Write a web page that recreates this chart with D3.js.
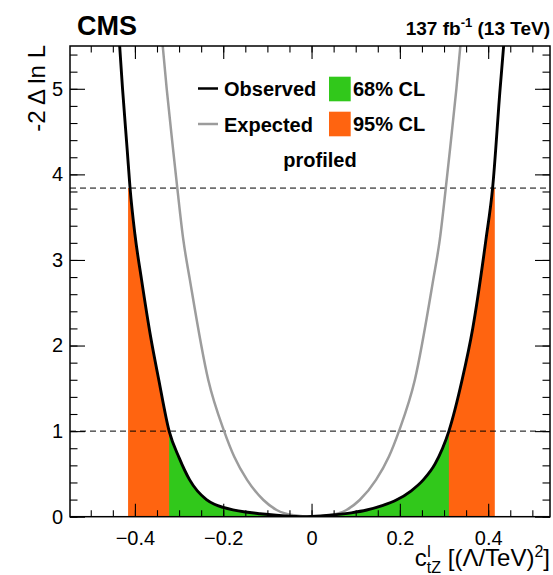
<!DOCTYPE html>
<html lang="en">
<head>
<meta charset="UTF-8">
<title>c_tZ^I likelihood scan</title>
<script src="https://d3js.org/d3.v7.min.js"></script>
<style>
  body { margin: 0; background: #fff; }
  svg { font-family: "Liberation Sans", Arial, Helvetica, sans-serif; }
</style>
</head>
<body>
<script>
// observed scan
const obsX = [-0.439, -0.4345, -0.428, -0.4175, -0.411, -0.400, -0.385, -0.365, -0.346, -0.3225,
              -0.300, -0.276, -0.238, -0.220, -0.200, -0.178, -0.150, -0.117, -0.080, -0.040, -0.020,
              0.000, 0.048, 0.090, 0.125, 0.160, 0.192, 0.225, 0.253, 0.280, 0.311,
              0.341, 0.365, 0.395, 0.410, 0.427, 0.435, 0.440];
const obsY = [5.85, 5.5, 5.0, 4.29, 3.84, 3.30, 2.77, 2.12, 1.60, 1.00,
              0.69, 0.43, 0.20, 0.145, 0.108, 0.08, 0.055, 0.035, 0.017, 0.004, 0.0,
              0.002, 0.02, 0.045, 0.078, 0.13, 0.195, 0.30, 0.43, 0.62, 1.0,
              1.6, 2.2, 3.24, 3.84, 5.0, 5.5, 5.85];

// expected scan
const expX = [-0.342, -0.337, -0.328, -0.3135, -0.304, -0.2905, -0.2756, -0.234, -0.198, -0.175,
              -0.146, -0.109, -0.079, -0.040, 0.000, 0.040, 0.079, 0.109, 0.146, 0.175,
              0.198, 0.234, 0.2756, 0.2905, 0.304, 0.3135, 0.328, 0.337, 0.342];
const expY = [5.8, 5.5, 5.0, 4.29, 3.84, 3.24, 2.77, 1.6, 1.0, 0.7,
              0.43, 0.195, 0.078, 0.016, 0.0, 0.016, 0.078, 0.195, 0.43, 0.7,
              1.0, 1.6, 2.77, 3.24, 3.84, 4.29, 5.0, 5.5, 5.8];

const ci68 = [-0.3225, 0.311];
const ci95 = [-0.4155, 0.415];
const levels = [1, 3.84];

const xTickVals = [-0.4, -0.2, 0, 0.2, 0.4];
const xTickLabels = ["\u22120.4", "\u22120.2", "0", "0.2", "0.4"];
const yTickVals = [0, 1, 2, 3, 4, 5];
const yTickLabels = ["0", "1", "2", "3", "4", "5"];

const lineLabels = ["Observed", "Expected"];
const boxLabels = ["68% CL", "95% CL"];

const green = "#31c81b", orange = "#ff6410", grey = "#9c9c9c";
const font = "'Liberation Sans', Arial, Helvetica, sans-serif";

const width = 553, height = 575;
const pLeft = 70, pRight = 550, pTop = 46, pBottom = 516.7;

const x = d3.scaleLinear().domain([-0.547, 0.540]).range([pLeft, pRight]);
const y = d3.scaleLinear().domain([0, 5.5]).range([pBottom, pTop]);

const svg = d3.select("body").append("svg")
    .attr("width", width)
    .attr("height", height);

const defs = svg.append("defs");
defs.append("clipPath").attr("id", "plot")
  .append("rect")
    .attr("x", pLeft).attr("y", pTop)
    .attr("width", pRight - pLeft).attr("height", pBottom - pTop);

const obs = obsX.map((v, i) => [v, obsY[i]]);
const exp = expX.map((v, i) => [v, expY[i]]);

const area = d3.area()
    .x(d => x(d[0]))
    .y0(y(0))
    .y1(d => y(d[1]))
    .curve(d3.curveMonotoneX);

const line = d3.line()
    .x(d => x(d[0]))
    .y(d => y(d[1]))
    .curve(d3.curveMonotoneX);

// bands under the observed curve: 95% first (capped at its level), 68% on top
[[ci95, levels[1], orange, "b95"], [ci68, levels[1], green, "b68"]].forEach(([ci, lev, col, id]) => {
  defs.append("clipPath").attr("id", id)
    .append("rect")
      .attr("x", x(ci[0])).attr("y", y(lev))
      .attr("width", x(ci[1]) - x(ci[0])).attr("height", pBottom - y(lev));
  svg.append("g").attr("clip-path", "url(#plot)")
    .append("path")
      .attr("clip-path", `url(#${id})`)
      .attr("d", area(obs))
      .attr("fill", col);
});

// dashed levels
svg.append("g")
  .selectAll("line")
  .data(levels)
  .join("line")
    .attr("x1", pLeft).attr("x2", pRight)
    .attr("y1", d => y(d)).attr("y2", d => y(d))
    .attr("stroke", "#000")
    .attr("stroke-width", 1)
    .attr("stroke-dasharray", "6,4");

const curves = svg.append("g").attr("clip-path", "url(#plot)");
curves.append("path")
    .attr("d", line(exp))
    .attr("fill", "none")
    .attr("stroke", grey)
    .attr("stroke-width", 2.5);
curves.append("path")
    .attr("d", line(obs))
    .attr("fill", "none")
    .attr("stroke", "#000")
    .attr("stroke-width", 2.9);

// axes, ticks on all four sides
const minorX = d3.range(-10, 11).map(i => i * 0.05).filter(v => v >= -0.547 && v <= 0.540);
const minorY = d3.range(0, 28).map(i => i * 0.2).filter(v => v <= 5.5);

function addAxis(axis, tr, labels) {
  const g = svg.append("g")
      .attr("transform", tr)
      .call(axis)
      .attr("font-size", 20)
      .attr("font-family", font);
  g.select(".domain").remove();
  g.selectAll(".tick line").attr("stroke-width", 1.1);
  if (!labels) g.selectAll(".tick text").remove();
  g.selectAll(".tick text").attr("fill", "#000");
  return g;
}

addAxis(d3.axisBottom(x).tickValues(xTickVals).tickFormat((d, i) => xTickLabels[i])
    .tickSizeInner(-13).tickSizeOuter(0).tickPadding(14), `translate(0,${pBottom})`, true);
addAxis(d3.axisBottom(x).tickValues(minorX).tickSize(-6.5), `translate(0,${pBottom})`, false);
addAxis(d3.axisTop(x).tickValues(xTickVals).tickSize(-13), `translate(0,${pTop})`, false);
addAxis(d3.axisTop(x).tickValues(minorX).tickSize(-6.5), `translate(0,${pTop})`, false);

addAxis(d3.axisLeft(y).tickValues(yTickVals).tickFormat((d, i) => yTickLabels[i])
    .tickSizeInner(-15).tickSizeOuter(0).tickPadding(7), `translate(${pLeft},0)`, true);
addAxis(d3.axisLeft(y).tickValues(minorY).tickSize(-7.5), `translate(${pLeft},0)`, false);
addAxis(d3.axisRight(y).tickValues(yTickVals).tickSize(-15), `translate(${pRight},0)`, false);
addAxis(d3.axisRight(y).tickValues(minorY).tickSize(-7.5), `translate(${pRight},0)`, false);

// frame
svg.append("rect")
    .attr("x", pLeft).attr("y", pTop)
    .attr("width", pRight - pLeft).attr("height", pBottom - pTop)
    .attr("fill", "none")
    .attr("stroke", "#000")
    .attr("stroke-width", 1.5);

// legend
const lg = svg.append("g").attr("font-size", 20).attr("font-weight", "bold");
const lineCols = ["#000", grey];
const boxCols = [green, orange];
lineLabels.forEach((t, i) => {
  const yy = 88.5 + i * 35.5;
  lg.append("line")
      .attr("x1", 198).attr("x2", 218)
      .attr("y1", yy).attr("y2", yy)
      .attr("stroke", lineCols[i])
      .attr("stroke-width", 2.5);
  lg.append("text")
      .attr("x", 224).attr("y", yy + 7.5)
      .text(t);
});
boxLabels.forEach((t, i) => {
  const yy = 76.7 + i * 35;
  lg.append("rect")
      .attr("x", 329).attr("y", yy)
      .attr("width", 21.7).attr("height", 24.6)
      .attr("fill", boxCols[i]);
  lg.append("text")
      .attr("x", 353).attr("y", yy + 19.3)
      .text(t);
});
lg.append("text")
    .attr("x", 320).attr("y", 167.3)
    .attr("text-anchor", "middle")
    .text("profiled");

// header
svg.append("text")
    .attr("x", 77).attr("y", 35.3)
    .attr("font-size", 27)
    .attr("font-weight", "bold")
    .text("CMS");

const lumi = svg.append("text")
    .attr("x", 550).attr("y", 35.3)
    .attr("text-anchor", "end")
    .attr("font-size", 19)
    .attr("font-weight", "bold");
lumi.append("tspan").text("137 fb");
lumi.append("tspan").attr("dy", -8).attr("font-size", 13).text("-1");
lumi.append("tspan").attr("dy", 8).text(" (13 TeV)");

// axis titles
svg.append("text")
    .attr("transform", "translate(44.5,45) rotate(-90)")
    .attr("text-anchor", "end")
    .attr("font-size", 24)
    .text("-2 \u0394 ln L");

const xt = svg.append("text")
    .attr("x", 550).attr("y", 566)
    .attr("text-anchor", "end")
    .attr("font-size", 24);
xt.append("tspan").text("c");
xt.append("tspan").attr("dy", -9).attr("font-size", 16).text("I");
xt.append("tspan").attr("dx", -4.4).attr("dy", 16).attr("font-size", 16).text("tZ");
xt.append("tspan").attr("dy", -7).text(" [(\u039B/TeV)");
xt.append("tspan").attr("dy", -9).attr("font-size", 16).text("2");
xt.append("tspan").attr("dy", 9).text("]");
</script>
</body>
</html>
